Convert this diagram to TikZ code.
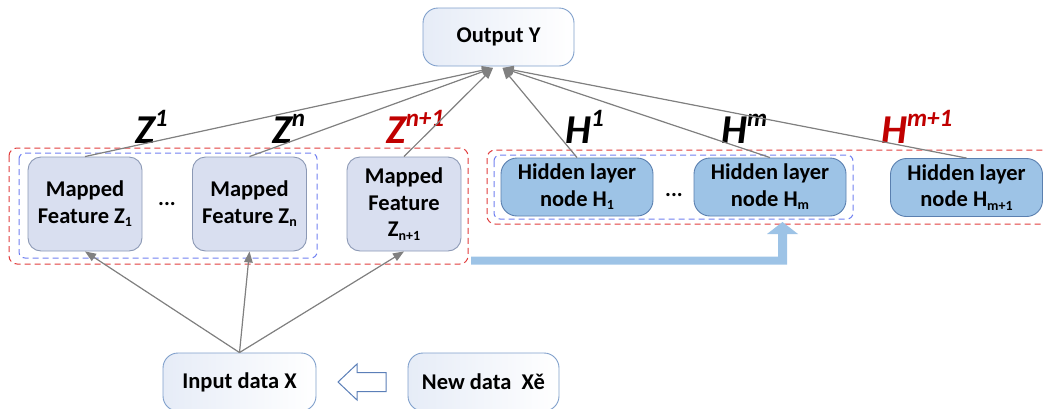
\documentclass[tikz,border=0pt]{standalone}
\usepackage{fontspec}
\setmainfont{Carlito}
\usetikzlibrary{arrows.meta,calc}

\definecolor{zfill}{HTML}{D9DFF0}
\definecolor{zline}{HTML}{8C99B5}
\definecolor{hfill}{HTML}{9DC3E6}
\definecolor{hline}{HTML}{5A7FAF}
\definecolor{wline}{HTML}{7F9FCB}
\definecolor{wtint}{HTML}{E6ECF7}
\definecolor{connc}{HTML}{808080}
\definecolor{grpred}{HTML}{E03C3C}
\definecolor{grpblue}{HTML}{7080F0}
\definecolor{labred}{HTML}{C00000}
\definecolor{hollow}{HTML}{5B7FB8}

% subscript inside box texts
\newcommand\boxsub[1]{\raisebox{-3.5pt}{\fontsize{14}{14}\selectfont #1}}
% superscript of the big italic labels
\newcommand\lblsup[1]{\raisebox{17pt}{\fontsize{25}{25}\selectfont #1}}

\tikzset{
  boxtext/.style={font=\fontsize{22.5}{26.5}\selectfont\bfseries, align=center, inner sep=0pt},
  zbox/.style={boxtext, draw=zline, fill=zfill, line width=0.9pt, rounded corners=13pt,
    minimum width=114pt, minimum height=94pt},
  hbox/.style={boxtext, draw=hline, fill=hfill, line width=0.9pt, rounded corners=16pt,
    minimum width=152pt, minimum height=58pt},
  wbox/.style={boxtext, draw=wline, left color=wtint, right color=white, line width=0.9pt,
    rounded corners=15pt, minimum width=152pt, minimum height=58pt},
  biglab/.style={font=\fontsize{41}{41}\selectfont\bfseries\itshape, inner sep=0pt, anchor=base west},
  conn/.style={draw=connc, line width=1.2pt, -{Triangle[length=11pt,width=8.5pt]}, fill=connc},
  redgroup/.style={draw=grpred, line width=1pt, dash pattern=on 6pt off 4pt, rounded corners=8pt},
  bluegroup/.style={draw=grpblue, line width=1pt, dash pattern=on 6pt off 4pt, rounded corners=6pt},
  dotstext/.style={font=\fontsize{22}{22}\selectfont\bfseries, inner sep=0pt, anchor=base}
}

\begin{document}
\begin{tikzpicture}[x=1pt,y=-1pt]
\useasboundingbox (0,0) rectangle (1044,408);

% group frames
\draw[redgroup] (9,148) rectangle (468,264);
\draw[bluegroup] (19,153) rectangle (317,258);
\draw[redgroup] (487,150) rectangle (1075,224);
\draw[bluegroup] (494,155) rectangle (853,219);

% output node
\node[wbox, minimum width=151pt] (out) at (498.5,37) {Output Y};

% mapped feature nodes
\node[zbox] (z1) at (85,204) {Mapped\\Feature Z\boxsub{1}};
\node[zbox] (zn) at (249.5,204) {Mapped\\Feature Z\boxsub{n}};
\node[zbox] (zn1) at (404,204) {Mapped\\Feature\\Z\boxsub{n+1}};
\node[dotstext] (zdots) at (167,205) {...};

% hidden layer nodes
\node[hbox] (h1) at (577,187) {Hidden layer\\node H\boxsub{1}};
\node[hbox] (hm) at (770,187) {Hidden layer\\node H\boxsub{m}};
\node[hbox] (hm1) at (966.5,187.5) {Hidden layer\\node H\boxsub{m+1}};
\node[dotstext] (hdots) at (674,196) {...};

% input nodes
\node[wbox, minimum width=153pt] (inp) at (239.5,382) {Input data X};
\node[wbox, minimum width=151pt] (new) at (483.5,382) {New data~~Xě};

% weight labels
\node[biglab] (lz1) at (135,143) {Z\lblsup{1}};
\node[biglab] (lzn) at (272,143) {Z\lblsup{n}};
\node[biglab, text=labred] (lzn1) at (386,143) {Z\lblsup{n+1}};
\node[biglab] (lh1) at (565,143) {H\lblsup{1}};
\node[biglab] (lhm) at (721,143) {H\lblsup{m}};
\node[biglab, text=labred] (lhm1) at (881,143) {H\lblsup{m+1}};

% convergence points under the output node
\coordinate (outL) at ($(out.south)+(-5.5,1.5)$);
\coordinate (outR) at ($(out.south)+(4,1.5)$);

% connections to the output
\draw[conn] (z1.north) -- (outL);
\draw[conn] (zn.north) -- (outL);
\draw[conn] (zn1.north) -- (outL);
\draw[conn] (h1.north) -- (outR);
\draw[conn] (hm.north) -- (outR);
\draw[conn] (hm1.north) -- (outR);

% connections from the input
\draw[conn] (inp.north) -- (z1.south);
\draw[conn] (inp.north) -- (zn.south);
\draw[conn] (inp.north) -- (zn1.south);

% broad arrow feeding the hidden layer group
\coordinate (bstart) at (471,256.5);
\coordinate (btip) at (782.5,222);
\fill[hfill] (bstart) -- (778,256.5) -- (778,234) -- (767,234) -- (btip)
  -- (798,234) -- (787,234) -- (787,264.5) -- (471,264.5) -- cycle;

% hollow arrow from the new data to the input
\coordinate (htip) at (338,382);
\draw[hollow, fill=white, line width=1pt, line join=miter]
  (htip) -- (357,364) -- (357,372.5) -- (386,372.5) -- (386,391.5)
  -- (357,391.5) -- (357,400) -- cycle;
\end{tikzpicture}
\end{document}
